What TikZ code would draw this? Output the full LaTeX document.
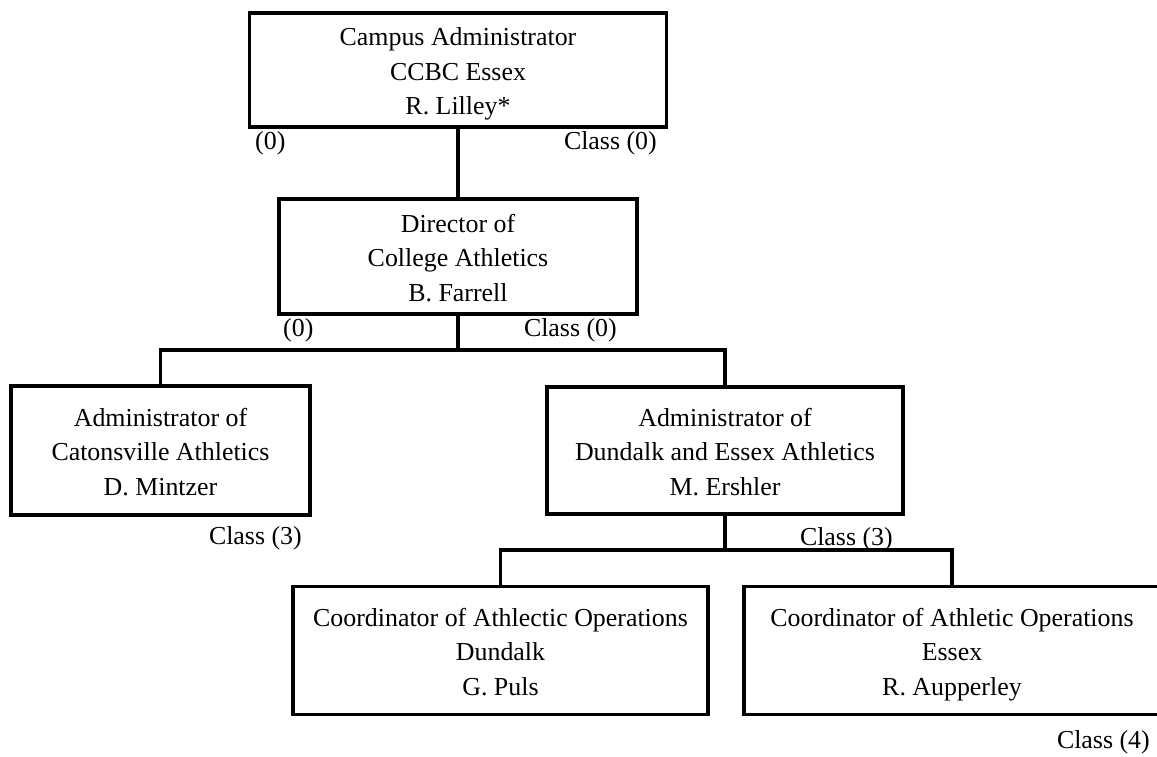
\documentclass[tikz,border=0pt]{standalone}
\usepackage{fontspec}
\setmainfont{Liberation Serif}
\newcommand\lastdp{\vphantom{y}}
\begin{document}
\begin{tikzpicture}[x=1pt,y=-1pt,
  box/.style={draw=black, line width=3.3pt, rectangle, inner sep=0pt},
  tx/.style={align=center, inner sep=0pt, yshift=-4pt,
    font=\fontsize{25.9}{34.5}\selectfont, text=black},
  lab/.style={inner sep=0pt, font=\fontsize{25.9}{34.5}\selectfont, text=black},
  link/.style={draw=black, line width=3.3pt}]
\useasboundingbox (0,0) rectangle (1157,756);
\clip (0,0) rectangle (1157,756);
\fill[white] (0,0) rectangle (1157,756);
% boxes
\node[box, minimum width=417pt, minimum height=114pt,
  label={[tx]center:Campus Administrator\\CCBC Essex\\R. Lilley*\lastdp}] (A) at (458,70) {};
\node[box, minimum width=358pt, minimum height=115pt,
  label={[tx]center:Director of\\College Athletics\\B. Farrell\lastdp}] (B) at (458,256.5) {};
\node[box, minimum width=299pt, minimum height=129pt,
  label={[tx]center:Administrator of\\Catonsville Athletics\\D. Mintzer\lastdp}] (C) at (160.5,450.5) {};
\node[box, minimum width=356pt, minimum height=127pt,
  label={[tx]center:Administrator of\\Dundalk and Essex Athletics\\M. Ershler\lastdp}] (D) at (725,450.5) {};
\node[box, minimum width=415pt, minimum height=128pt,
  label={[tx]center:Coordinator of Athlectic Operations\\Dundalk\\G. Puls\lastdp}] (E) at (500.5,650.5) {};
\node[box, minimum width=416pt, minimum height=128pt,
  label={[tx]center:Coordinator of Athletic Operations\\Essex\\R. Aupperley\lastdp}] (F) at (952,650.5) {};
% junctions
\coordinate (j1) at (458,350);
\coordinate (j2) at (725,550);
% connectors
\draw[link] (A.south) -- (B.north);
\draw[link] (B.south) -- (B.south |- j1);
\draw[link] (C.north) -- (C.north |- j1) -- (D.north |- j1) -- (D.north);
\draw[link] (D.south) -- (D.south |- j2);
\draw[link] (E.north) -- (E.north |- j2) -- (F.north |- j2) -- (F.north);
% labels
\node[lab, anchor=west] (la1) at (255,143) {(0)};
\node[lab, anchor=east] (la2) at (657,143) {Class (0)};
\node[lab, anchor=west] (lb1) at (283,330) {(0)};
\node[lab, anchor=east] (lb2) at (617,330) {Class (0)};
\node[lab, anchor=east] (lc) at (302,538) {Class (3)};
\node[lab, anchor=east] (ld) at (893,539) {Class (3)};
\node[lab, anchor=east] (lf) at (1150,742) {Class (4)};
\end{tikzpicture}
\end{document}
